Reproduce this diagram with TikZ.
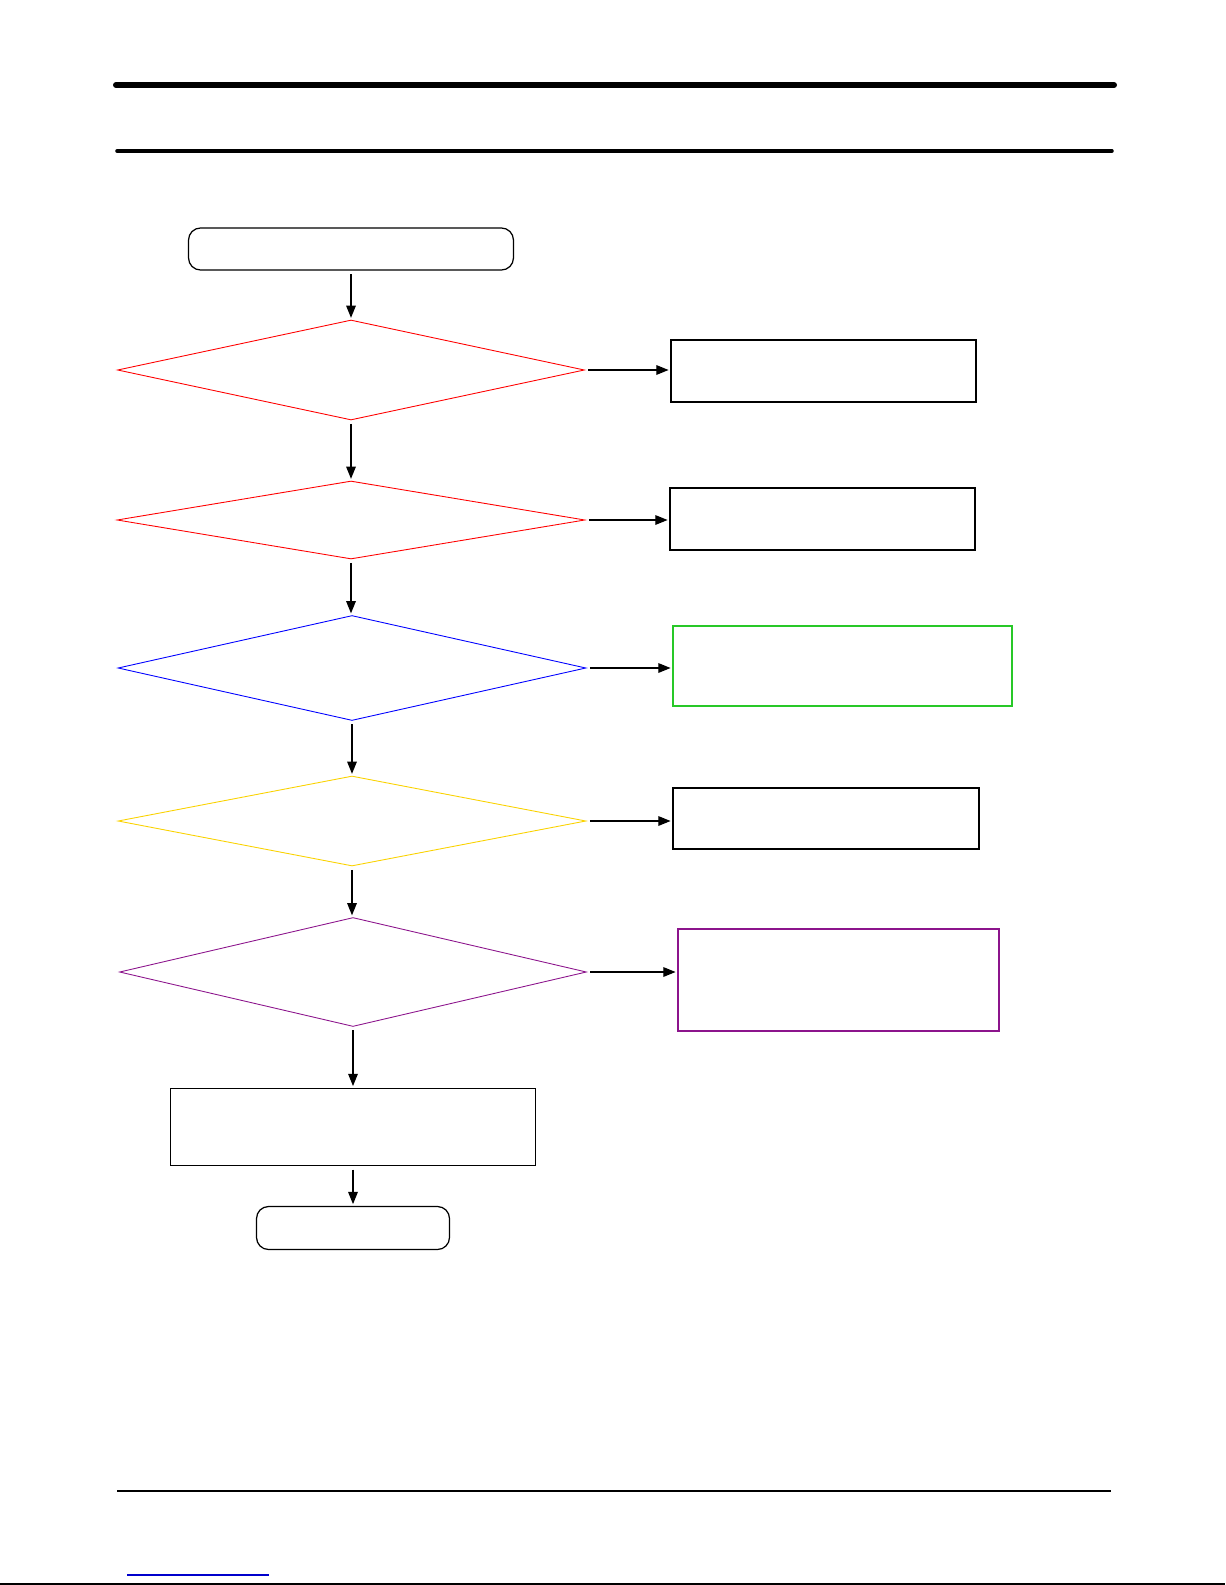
\documentclass[tikz,border=0pt]{standalone}
\usetikzlibrary{arrows.meta,shapes.geometric}
\definecolor{checkgold}{RGB}{250,210,0}
\definecolor{checkpurple}{RGB}{140,20,140}
\definecolor{fixgreen}{RGB}{40,200,40}

\begin{document}
\begin{tikzpicture}[x=0.02cm,y=-0.02cm,
  check/.style={diamond,draw,line width=0.5pt,inner sep=0pt},
  action/.style={rectangle,draw,line width=0.8pt,inner sep=0pt},
  terminal/.style={rectangle,rounded corners=0.24cm,draw,line width=0.7pt,inner sep=0pt},
  flow/.style={-{Triangle[length=7pt,width=5.5pt]},line width=0.7pt,shorten <=2pt,shorten >=1pt}]
\useasboundingbox (0,0) rectangle (1225,1585);
% page rules
\draw[line width=3.4pt,line cap=round] (116,85) -- (1114,85);
\draw[line width=2pt,line cap=round] (117,151) -- (1112,151);
\draw[line width=0.9pt] (117,1491) -- (1111,1491);
\draw[line width=0.6pt,blue!80!black] (127,1575) -- (269,1575);
\draw[line width=0.9pt] (0,1584) -- (1225,1584);
% main column
\node[terminal,minimum width=6.5cm,minimum height=0.84cm] (start) at (351,249) {};
\node[check,red,minimum width=9.34cm,minimum height=2cm] (check1) at (351,370) {};
\node[check,red,minimum width=9.36cm,minimum height=1.56cm] (check2) at (351,520) {};
\node[check,blue,minimum width=9.36cm,minimum height=2.1cm] (check3) at (352,668) {};
\node[check,checkgold,minimum width=9.36cm,minimum height=1.8cm] (check4) at (352,821) {};
\node[check,checkpurple,minimum width=9.34cm,minimum height=2.18cm] (check5) at (353,972) {};
\node[action,minimum width=7.3cm,minimum height=1.54cm] (final) at (353,1127) {};
\node[terminal,minimum width=3.86cm,minimum height=0.86cm] (stop) at (353,1228) {};
% side boxes
\node[action,minimum width=6.1cm,minimum height=1.24cm] (fix1) at (823.5,371) {};
\node[action,minimum width=6.1cm,minimum height=1.24cm] (fix2) at (822.5,519) {};
\node[action,fixgreen,minimum width=6.78cm,minimum height=1.6cm] (fix3) at (842.5,666) {};
\node[action,minimum width=6.12cm,minimum height=1.22cm] (fix4) at (826,818.5) {};
\node[action,checkpurple,minimum width=6.42cm,minimum height=2.04cm] (fix5) at (838.5,980) {};
% connectors
\draw[flow] (start) -- (check1);
\draw[flow] (check1) -- (check2);
\draw[flow] (check2.south) -- (check3.north -| check2.south);
\draw[flow] (check3) -- (check4);
\draw[flow] (check4.south) -- (check5.north -| check4.south);
\draw[flow] (check5) -- (final);
\draw[flow] (final) -- (stop);
\draw[flow] (check1.east) -- (fix1.west |- check1.east);
\draw[flow] (check2.east) -- (fix2.west |- check2.east);
\draw[flow] (check3.east) -- (fix3.west |- check3.east);
\draw[flow] (check4.east) -- (fix4.west |- check4.east);
\draw[flow] (check5.east) -- (fix5.west |- check5.east);
\end{tikzpicture}
\end{document}
